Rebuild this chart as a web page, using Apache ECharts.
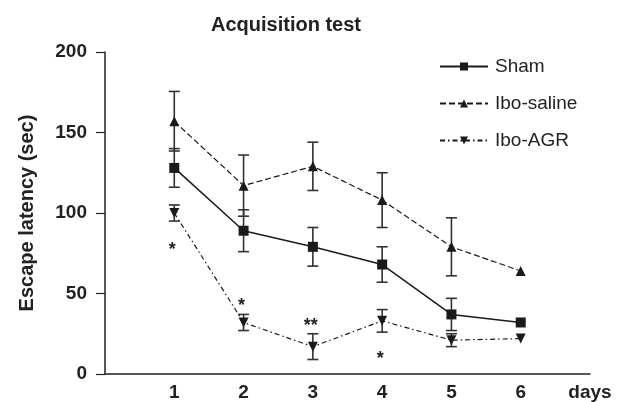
<!DOCTYPE html>
<html>
<head>
<meta charset="utf-8">
<script src="https://cdn.jsdelivr.net/npm/echarts@6/dist/echarts.min.js"></script>
<style>html,body{margin:0;padding:0;background:#fff;}#c{width:620px;height:402px;}</style>
</head>
<body>
<div id="c"></div>
<script>
const days = [1, 2, 3, 4, 5, 6];
const xTickLabels = ['', '1', '2', '3', '4', '5', '6', 'days'];
const yTicks = [0, 50, 100, 150, 200];
const shamMean = [128, 89, 79, 68, 37, 32];
const shamErr = [12, 13, 12, 11, 10, 0];
const salineMean = [157, 117, 129, 108, 79, 64];
const salineErr = [18.5, 19, 15, 17, 18, 0];
const agrMean = [100, 32, 17, 33, 21, 22];
const agrErr = [5, 5, 8, 7, 4, 0];
const sigDays = [1, 2, 3, 4];
const sigPos = [77, 42, 30, 9];
const sigText = ['*', '*', '**', '*'];

const FONT = '"Liberation Sans", Arial, Helvetica, sans-serif';
const INK = '#1a1a1a';

function pts(mean) { return days.map((d, i) => [d, mean[i]]); }
function errData(mean, err) {
  return days.map((d, i) => [d, mean[i] - err[i], mean[i] + err[i]]).filter((r, i) => err[i] > 0);
}
function errSeries(name, mean, err) {
  return {
    type: 'custom', name: name + ' err', silent: true, z: 1,
    data: errData(mean, err),
    renderItem: function (params, api) {
      const x = api.value(0);
      const lo = api.coord([x, api.value(1)]);
      const hi = api.coord([x, api.value(2)]);
      const w = 5.5;
      const st = { stroke: '#333', lineWidth: 1.6, fill: null };
      return {
        type: 'group', children: [
          { type: 'line', shape: { x1: lo[0], y1: lo[1], x2: hi[0], y2: hi[1] }, style: st },
          { type: 'line', shape: { x1: lo[0] - w, y1: lo[1], x2: lo[0] + w, y2: lo[1] }, style: st },
          { type: 'line', shape: { x1: hi[0] - w, y1: hi[1], x2: hi[0] + w, y2: hi[1] }, style: st }
        ]
      };
    }
  };
}

const chart = echarts.init(document.getElementById('c'), null, { renderer: 'canvas' });
chart.setOption({
  animation: false,
  backgroundColor: '#fff',
  title: {
    text: 'Acquisition test', left: 206, top: 10,
    textStyle: { fontFamily: FONT, fontWeight: 'bold', fontSize: 20, color: '#222' }
  },
  legend: {
    orient: 'vertical', left: 439, top: 57, padding: 0, itemWidth: 48, itemHeight: 10, itemGap: 18,
    data: ['Sham', 'Ibo-saline', 'Ibo-AGR'],
    textStyle: { fontFamily: FONT, fontSize: 19, color: '#222', padding: [0, 0, 0, 2] }
  },
  grid: { left: 105, right: 30, top: 52, bottom: 28 },
  xAxis: {
    type: 'value', min: 0, max: 7, interval: 1,
    axisLine: { show: true, lineStyle: { color: '#222', width: 1.5 } },
    axisTick: { show: false }, splitLine: { show: false },
    axisLabel: {
      margin: 9, fontFamily: FONT, fontWeight: 'bold', fontSize: 19, color: '#222',
      formatter: v => xTickLabels[v] || ''
    }
  },
  yAxis: {
    type: 'value', min: yTicks[0], max: yTicks[yTicks.length - 1], interval: 50,
    name: 'Escape latency (sec)', nameLocation: 'middle', nameGap: 68, nameRotate: 90,
    nameTextStyle: { fontFamily: FONT, fontWeight: 'bold', fontSize: 20, color: '#222' },
    axisLine: { show: true, lineStyle: { color: '#222', width: 1.5 } },
    axisTick: { show: true, inside: false, length: 9, lineStyle: { color: '#222', width: 1.2 } },
    splitLine: { show: false },
    axisLabel: { margin: 18, fontFamily: FONT, fontWeight: 'bold', fontSize: 19, color: '#222' }
  },
  series: [
    errSeries('Sham', shamMean, shamErr),
    errSeries('Ibo-saline', salineMean, salineErr),
    errSeries('Ibo-AGR', agrMean, agrErr),
    {
      name: 'Sham', type: 'line', z: 3, data: pts(shamMean), symbol: 'rect', symbolSize: 10,
      itemStyle: { color: INK }, lineStyle: { color: INK, width: 1.5, type: 'solid' }
    },
    {
      name: 'Ibo-saline', type: 'line', z: 3, data: pts(salineMean), symbol: 'triangle', symbolSize: 10,
      itemStyle: { color: INK }, lineStyle: { color: INK, width: 1.2, type: [6, 3] }
    },
    {
      name: 'Ibo-AGR', type: 'line', z: 3, data: pts(agrMean), symbol: 'triangle', symbolRotate: 180, symbolSize: 10,
      itemStyle: { color: INK }, lineStyle: { color: INK, width: 1.2, type: [5, 3, 1.5, 3] }
    },
    {
      type: 'custom', name: 'sig', silent: true, z: 4,
      data: sigDays.map((d, i) => [d, sigPos[i], i]),
      renderItem: function (params, api) {
        const p = api.coord([api.value(0), api.value(1)]);
        return {
          type: 'text',
          style: {
            text: sigText[api.value(2)], x: p[0] - 2, y: p[1],
            align: 'center', verticalAlign: 'middle',
            font: 'bold 18px ' + FONT, fill: '#222'
          }
        };
      }
    }
  ]
});
</script>
</body>
</html>
